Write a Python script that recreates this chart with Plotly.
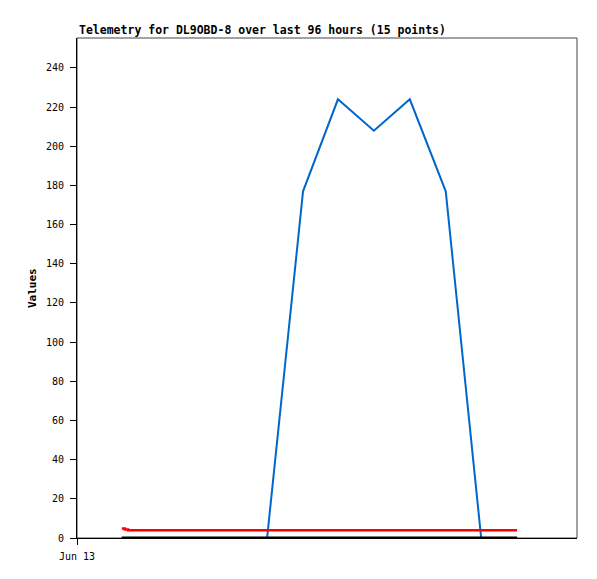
import plotly.graph_objects as go

# ---- data (hours since Jun 13 00:00) ----
blue_hours = [8.6, 36.5, 43.4, 50.1, 57.0, 63.9, 70.8, 77.6, 84.5]
blue_vals = [0, 0, 177, 224, 208, 224, 177, 0, 0]

red_hours = [8.6, 9.2, 9.8, 84.5]
red_vals = [4.8, 4.3, 3.9, 3.9]

black_hours = [8.6, 84.5]
black_vals = [0, 0]

x_tick_vals = [0]
x_tick_text = ["Jun 13"]
y_tick_vals = [0, 20, 40, 60, 80, 100, 120, 140, 160, 180, 200, 220, 240]

title_text = "Telemetry for DL9OBD-8 over last 96 hours (15 points)"
y_title = "Values"

FONT = "DejaVu Sans Mono"

fig = go.Figure()
fig.add_trace(go.Scatter(x=blue_hours, y=blue_vals, mode="lines",
                         line=dict(color="#0066cc", width=2), showlegend=False))
fig.add_trace(go.Scatter(x=red_hours, y=red_vals, mode="lines",
                         line=dict(color="#ff0000", width=2.5, shape="hv"), showlegend=False))
fig.add_trace(go.Scatter(x=black_hours, y=black_vals, mode="lines",
                         line=dict(color="#000000", width=3), showlegend=False))

fig.update_layout(
    width=581, height=563, autosize=False,
    margin=dict(l=69, r=12, t=30, b=33, pad=0),
    paper_bgcolor="white", plot_bgcolor="white",
    font=dict(family=FONT, size=10, color="black"),
    showlegend=False,
    shapes=[dict(type="rect", xref="paper", yref="paper", x0=0, x1=1, y0=0, y1=1,
                 line=dict(color="#444444", width=1), layer="below")],
    annotations=[
        dict(text="<b>" + title_text + "</b>", xref="paper", yref="paper",
             x=0, y=1, xanchor="left", yanchor="bottom", yshift=-1,
             showarrow=False, font=dict(family=FONT, size=11.5, color="black")),
        dict(text="<b>" + y_title + "</b>", xref="paper", yref="paper",
             x=-0.09, y=0.5, xanchor="center", yanchor="middle", textangle=-90,
             showarrow=False, font=dict(family=FONT, size=11, color="black")),
    ],
)

fig.update_xaxes(range=[0, 96], tickmode="array", tickvals=x_tick_vals, ticktext=x_tick_text,
                 ticks="outside", ticklen=6, tickcolor="black", showgrid=False, zeroline=False,
                 showline=True, linecolor="black", linewidth=1, ticklabelstandoff=3,
                 automargin=False, tickfont=dict(family=FONT, size=10))
fig.update_yaxes(range=[0, 255.3], tickmode="array", tickvals=y_tick_vals,
                 ticks="outside", ticklen=6, tickcolor="black", showgrid=False, zeroline=False,
                 showline=True, linecolor="black", linewidth=1, ticklabelstandoff=4,
                 automargin=False, tickfont=dict(family=FONT, size=10))

fig.write_html("out.html", config={"displayModeBar": False})
